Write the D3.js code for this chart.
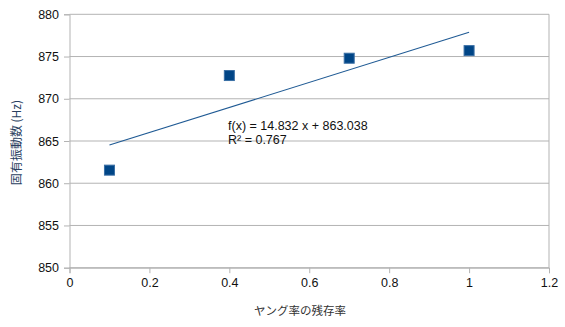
<!DOCTYPE html>
<html><head><meta charset="utf-8">
<script src="https://cdn.jsdelivr.net/npm/d3@7"></script>
<style>body{margin:0;background:#fff}svg{display:block}text{font-family:"Liberation Sans",Arial,sans-serif}</style>
</head><body><svg id="c" width="565" height="327"></svg>
<script>
const xValues = [0.1, 0.4, 0.7, 1.0];
const yValues = [861.55, 872.75, 874.8, 875.7];
const xTicks = [0, 0.2, 0.4, 0.6, 0.8, 1, 1.2];
const yTicks = [850, 855, 860, 865, 870, 875, 880];
const slope = 14.832, intercept = 863.038, r2 = 0.767;
const xTitle = "ヤング率の残存率";
const yTitle = "固有振動数 (Hz)";
const eqLines = ["f(x) = 14.832 x + 863.038", "R² = 0.767"];

const svg = d3.select("#c");
const m = {l:69.5, r:549, t:14.3, b:267.7};
const x = d3.scaleLinear().domain([0,1.2]).range([m.l, m.r]);
const y = d3.scaleLinear().domain([850,880]).range([m.b, m.t]);
const grid = "#b3b3b3";

// horizontal gridlines
svg.append("g").selectAll("line").data(yTicks).join("line")
  .attr("x1", m.l).attr("x2", m.r).attr("y1", d=>y(d)).attr("y2", d=>y(d))
  .attr("stroke", grid).attr("stroke-width", 1);
// right border
svg.append("line").attr("x1", m.r).attr("x2", m.r).attr("y1", m.t).attr("y2", m.b)
  .attr("stroke", grid);

const yAx = svg.append("g").attr("transform", `translate(${m.l},0)`)
  .call(d3.axisLeft(y).tickValues(yTicks).tickSize(5.5).tickPadding(5).tickFormat(d3.format("d")));
const xAx = svg.append("g").attr("transform", `translate(0,${m.b})`)
  .call(d3.axisBottom(x).tickValues(xTicks).tickSize(5.5).tickPadding(5).tickFormat(d=>String(d)));
[yAx, xAx].forEach(g=>{
  g.selectAll("path.domain").attr("stroke", grid);
  g.selectAll(".tick line").attr("stroke", grid);
  g.selectAll(".tick text").attr("fill", "#111").style("font-size", "12.5px").style("font-family", '"Liberation Sans",Arial,sans-serif');
});

// trend line
const xr = d3.extent(xValues);
svg.append("line")
  .attr("x1", x(xr[0])).attr("y1", y(slope*xr[0]+intercept))
  .attr("x2", x(xr[1])).attr("y2", y(slope*xr[1]+intercept))
  .attr("stroke", "#1f5a94").attr("stroke-width", 1.1);

// points
const s = 10;
svg.append("g").selectAll("rect").data(xValues.map((v,i)=>[v,yValues[i]])).join("rect")
  .attr("x", d=>x(d[0])-s/2).attr("y", d=>y(d[1])-s/2).attr("width", s).attr("height", s)
  .attr("fill", "#004586").attr("stroke", "#3a6fa5").attr("stroke-width", 1);

// equation
svg.append("g").selectAll("text").data(eqLines).join("text")
  .attr("x", 228).attr("y", (d,i)=>130 + i*13.5)
  .attr("fill", "#111").style("font-size", "12.5px").text(d=>d);

// titles
svg.append("text").attr("x", 300).attr("y", 315).attr("text-anchor", "middle")
  .attr("fill", "#333").style("font-size", "11.5px")
  .style("font-family", '"Noto Sans CJK JP","Liberation Sans",sans-serif').text(xTitle);
svg.append("text").attr("transform", `translate(21,142.5) rotate(-90)`)
  .attr("text-anchor", "middle").attr("fill", "#2a3f5f").style("font-size", "12px")
  .style("font-family", '"Noto Sans CJK JP","Liberation Sans",sans-serif').text(yTitle);
</script></body></html>
